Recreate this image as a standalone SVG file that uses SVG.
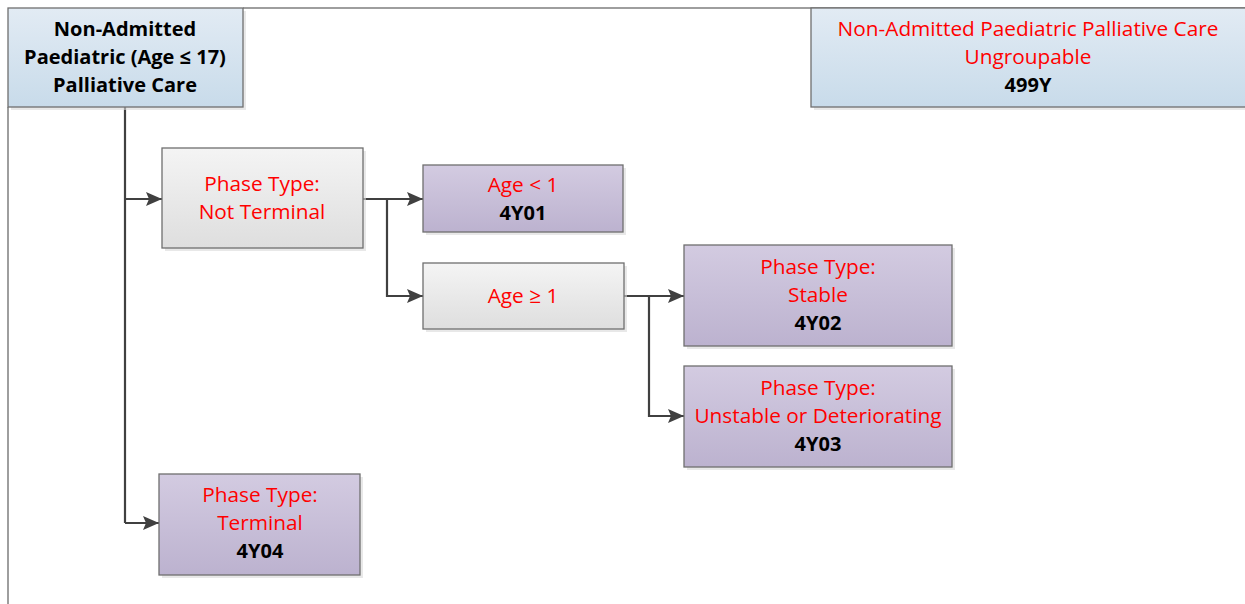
<svg xmlns="http://www.w3.org/2000/svg" width="1245" height="604" viewBox="0 0 1245 604">
  <defs>
    <linearGradient id="gBlue" x1="0" y1="0" x2="0" y2="1">
      <stop offset="0" stop-color="#e2ebf4"/>
      <stop offset="1" stop-color="#c8dbea"/>
    </linearGradient>
    <linearGradient id="gGray" x1="0" y1="0" x2="0" y2="1">
      <stop offset="0" stop-color="#f4f4f4"/>
      <stop offset="1" stop-color="#dedede"/>
    </linearGradient>
    <linearGradient id="gPurple" x1="0" y1="0" x2="0" y2="1">
      <stop offset="0" stop-color="#d3cbe1"/>
      <stop offset="1" stop-color="#bcb2cf"/>
    </linearGradient>
    <marker id="arrow" viewBox="0 0 16 14" refX="16" refY="7" markerWidth="16" markerHeight="14" markerUnits="userSpaceOnUse" orient="auto">
      <path d="M0,0 L16,7 L0,14 L3,7 Z" fill="#404040"/>
    </marker>
  </defs>
  <style>
    .box { stroke: #6f6f6f; stroke-width: 1.3; }
    .shadow { fill: #d9d9d9; opacity: 0.6; }
    .blue { fill: url(#gBlue); }
    .gray { fill: url(#gGray); }
    .purple { fill: url(#gPurple); }
    text { text-anchor: middle; font-family: "Open Sans", "Liberation Sans", sans-serif; }
    .red { fill: #ff0000; font-size: 20.8px; }
    .code, .title { fill: #000000; font-weight: bold; font-size: 20px; }
    .conn { fill: none; stroke: #404040; stroke-width: 2.2; }
    .frame { fill: none; stroke: #7f7f7f; stroke-width: 1.5; }
  </style>

  <rect width="1245" height="604" fill="#ffffff"/>

  <!-- page frame -->
  <path class="frame" d="M8,107 V604 M243,8 H1245"/>

  <!-- connectors -->
  <g id="connectors">
    <path class="conn" d="M125,107 V523"/>
    <path class="conn" d="M125,199 H162" marker-end="url(#arrow)"/>
    <path class="conn" d="M125,523 H159" marker-end="url(#arrow)"/>
    <path class="conn" d="M363,199 H423" marker-end="url(#arrow)"/>
    <path class="conn" d="M387,199 V296 H423" marker-end="url(#arrow)"/>
    <path class="conn" d="M624,296 H684" marker-end="url(#arrow)"/>
    <path class="conn" d="M649,296 V416 H684" marker-end="url(#arrow)"/>
  </g>

  <g id="root">
    <rect class="shadow" x="11" y="11" width="235" height="99"/>
    <rect class="box blue" x="8" y="8" width="235" height="99"/>
    <text class="title" x="125" y="36">Non-Admitted</text>
    <text class="title" x="125" y="64">Paediatric (Age ≤ 17)</text>
    <text class="title" x="125" y="92">Palliative Care</text>
  </g>

  <g id="ungroupable">
    <rect class="shadow" x="814" y="11" width="440" height="99"/>
    <rect class="box blue" x="811" y="8" width="440" height="99"/>
    <text class="red" x="1028" y="36">Non-Admitted Paediatric Palliative Care</text>
    <text class="red" x="1028" y="64">Ungroupable</text>
    <text class="code" x="1028" y="92">499Y</text>
  </g>

  <g id="not-terminal">
    <rect class="shadow" x="165" y="151" width="201" height="100"/>
    <rect class="box gray" x="162" y="148" width="201" height="100"/>
    <text class="red" x="262" y="191">Phase Type:</text>
    <text class="red" x="262" y="219">Not Terminal</text>
  </g>

  <g id="age-under-1">
    <rect class="shadow" x="426" y="168" width="200" height="67"/>
    <rect class="box purple" x="423" y="165" width="200" height="67"/>
    <text class="red" x="523" y="192">Age &lt; 1</text>
    <text class="code" x="523" y="220">4Y01</text>
  </g>

  <g id="age-1-plus">
    <rect class="shadow" x="426" y="266" width="201" height="66"/>
    <rect class="box gray" x="423" y="263" width="201" height="66"/>
    <text class="red" x="523" y="303">Age ≥ 1</text>
  </g>

  <g id="stable">
    <rect class="shadow" x="687" y="248" width="268" height="101"/>
    <rect class="box purple" x="684" y="245" width="268" height="101"/>
    <text class="red" x="818" y="274">Phase Type:</text>
    <text class="red" x="818" y="302">Stable</text>
    <text class="code" x="818" y="330">4Y02</text>
  </g>

  <g id="unstable">
    <rect class="shadow" x="687" y="369" width="268" height="101"/>
    <rect class="box purple" x="684" y="366" width="268" height="101"/>
    <text class="red" x="818" y="395">Phase Type:</text>
    <text class="red" x="818" y="423">Unstable or Deteriorating</text>
    <text class="code" x="818" y="451">4Y03</text>
  </g>

  <g id="terminal">
    <rect class="shadow" x="162" y="477" width="201" height="101"/>
    <rect class="box purple" x="159" y="474" width="201" height="101"/>
    <text class="red" x="260" y="502">Phase Type:</text>
    <text class="red" x="260" y="530">Terminal</text>
    <text class="code" x="260" y="558">4Y04</text>
  </g>
</svg>
